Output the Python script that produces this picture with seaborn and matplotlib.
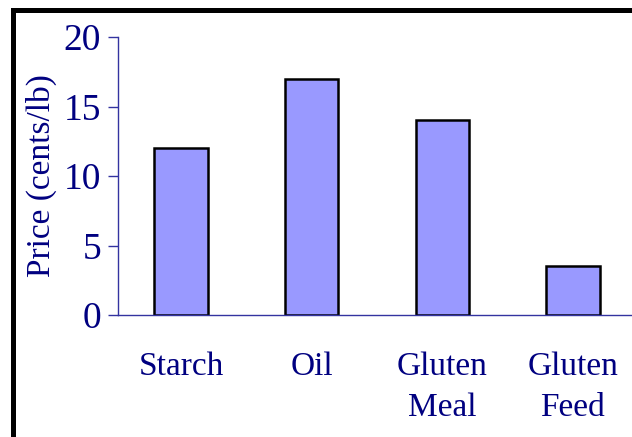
import matplotlib
matplotlib.use("Agg")
import matplotlib.pyplot as plt
import seaborn as sns
import pandas as pd
from matplotlib.patches import Rectangle

categories = ["Starch", "Oil", "Gluten\nMeal", "Gluten\nFeed"]
prices = [12, 17, 14, 3.5]
yticks = [0, 5, 10, 15, 20]

navy = "#000080"
sns.set_theme(style="white")
plt.rcParams["font.family"] = ["Liberation Serif", "DejaVu Serif"]

df = pd.DataFrame({"Product": categories, "Price": prices})

fig = plt.figure(figsize=(6.32, 4.37), dpi=100)
ax = fig.add_axes([118/632, 122/437, 514/632, 278/437])

sns.barplot(data=df, x="Product", y="Price", color="#9999FF", saturation=1,
            width=0.41, edgecolor="black", linewidth=1.8, ax=ax)

ax.set_xlim(-0.483, 3.452)
ax.set_ylim(0, 20)
ax.set_yticks(yticks)
ax.set_yticklabels([str(v) for v in yticks])

for s in ["top", "right"]:
    ax.spines[s].set_visible(False)
for s in ["left", "bottom"]:
    ax.spines[s].set_color("#3333A0")
    ax.spines[s].set_linewidth(1.0)

ax.tick_params(axis="y", direction="out", length=7.2, width=1.0, color="#3333A0",
               labelsize=27, labelcolor=navy, pad=5, left=True)
ax.tick_params(axis="x", length=0, labelsize=24, labelcolor=navy, pad=26)
for lbl in ax.get_xticklabels():
    lbl.set_linespacing(1.45)

ax.set_xlabel("")
ax.set_ylabel("Price (cents/lb)", fontsize=24, color=navy)
ax.yaxis.set_label_coords(-0.118, 0.5)

# slide frame
fig.add_artist(Rectangle((12.5/632, -0.2), 1.2, 1.2 - 10/437, transform=fig.transFigure,
                         fill=False, edgecolor="black", linewidth=3.6, clip_on=False))

fig.savefig("out.png", dpi=100)
